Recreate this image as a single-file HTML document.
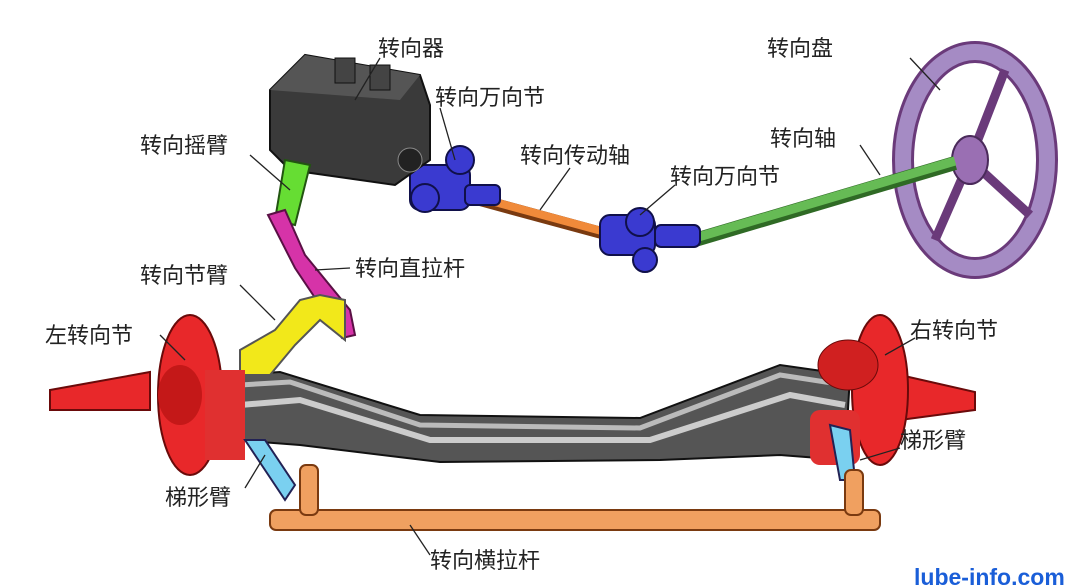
<!DOCTYPE html>
<html><head><meta charset="utf-8"><style>
html,body{margin:0;padding:0;background:#fff;}
svg{display:block}
text{font-family:"Liberation Sans","Noto Sans CJK SC",sans-serif;font-size:22px;fill:#222;}
</style></head><body>
<svg width="1080" height="587" viewBox="0 0 1080 587" xmlns="http://www.w3.org/2000/svg">
<ellipse cx="975" cy="160" rx="72" ry="108" fill="none" stroke="#6a3a7a" stroke-width="22"/>
<ellipse cx="975" cy="160" rx="72" ry="108" fill="none" stroke="#a58bc4" stroke-width="16"/>
<line x1="970" y1="160" x2="1005" y2="70" stroke="#6a3a7a" stroke-width="9"/>
<line x1="970" y1="160" x2="935" y2="240" stroke="#6a3a7a" stroke-width="9"/>
<line x1="970" y1="160" x2="1030" y2="215" stroke="#6a3a7a" stroke-width="9"/>
<ellipse cx="970" cy="160" rx="18" ry="24" fill="#9a6fb3" stroke="#4a2a5a" stroke-width="2"/>
<line x1="695" y1="240" x2="955" y2="163" stroke="#2f6a25" stroke-width="14"/>
<line x1="695" y1="238" x2="955" y2="161" stroke="#66bb55" stroke-width="9"/>
<line x1="480" y1="200" x2="620" y2="238" stroke="#7a3a10" stroke-width="12"/>
<line x1="480" y1="198" x2="620" y2="236" stroke="#f08a3a" stroke-width="8"/>
<g fill="#3a3ad0" stroke="#10104a" stroke-width="2">
<rect x="600" y="215" width="55" height="40" rx="10"/>
<circle cx="640" cy="222" r="14"/><circle cx="645" cy="260" r="12"/>
<rect x="655" y="225" width="45" height="22" rx="6"/>
<rect x="410" y="165" width="60" height="45" rx="10"/>
<circle cx="460" cy="160" r="14"/><circle cx="425" cy="198" r="14"/>
<rect x="465" y="185" width="35" height="20" rx="5"/>
</g>
<path d="M270 90 L305 55 L420 75 L430 105 L430 160 L395 185 L290 170 L270 150 Z" fill="#3a3a3a" stroke="#111" stroke-width="2"/>
<path d="M270 90 L305 55 L420 75 L400 100 Z" fill="#555"/>
<rect x="335" y="58" width="20" height="25" fill="#444" stroke="#111"/>
<rect x="370" y="65" width="20" height="25" fill="#444" stroke="#111"/>
<circle cx="410" cy="160" r="12" fill="#222" stroke="#888"/>
<path d="M285 160 L310 165 L295 225 L275 220 Z" fill="#66dd33" stroke="#225511" stroke-width="2"/>
<path d="M268 215 L285 210 L305 255 L350 310 L355 335 L342 338 L295 268 Z" fill="#d633a8" stroke="#5a1045" stroke-width="2"/>
<path d="M235 375 L280 372 L420 415 L640 418 L780 365 L850 375 L845 460 L780 455 L660 460 L440 462 L300 445 L235 440 Z" fill="#555" stroke="#111" stroke-width="2"/>
<path d="M240 385 L290 382 L420 425 L640 428 L780 375 L845 385" fill="none" stroke="#bbb" stroke-width="5"/>
<path d="M240 405 L300 400 L430 440 L650 440 L790 395 L845 405" fill="none" stroke="#ccc" stroke-width="6"/>
<path d="M240 350 L275 330 L300 300 L320 295 L345 300 L345 340 L320 320 L295 345 L270 375 L240 375 Z" fill="#f2e81a" stroke="#555" stroke-width="2"/>
<path d="M50 390 L150 372 L150 410 L50 410 Z" fill="#e8282a" stroke="#6a0a0a" stroke-width="2"/>
<ellipse cx="190" cy="395" rx="32" ry="80" fill="#e8282a" stroke="#6a0a0a" stroke-width="2"/>
<ellipse cx="180" cy="395" rx="22" ry="30" fill="#c41818"/>
<rect x="205" y="370" width="40" height="90" fill="#e03030"/>
<path d="M900 375 L975 392 L975 410 L900 420 Z" fill="#e8282a" stroke="#6a0a0a" stroke-width="2"/>
<ellipse cx="880" cy="390" rx="28" ry="75" fill="#e8282a" stroke="#6a0a0a" stroke-width="2"/>
<ellipse cx="848" cy="365" rx="30" ry="25" fill="#d02020" stroke="#6a0a0a"/>
<rect x="810" y="410" width="50" height="55" rx="10" fill="#e03030"/>
<path d="M245 440 L265 440 L295 485 L285 500 Z" fill="#7ad0f0" stroke="#225" stroke-width="2"/>
<path d="M830 425 L850 430 L855 480 L840 480 Z" fill="#7ad0f0" stroke="#225" stroke-width="2"/>
<rect x="270" y="510" width="610" height="20" rx="6" fill="#f0a060" stroke="#7a3a10" stroke-width="2"/>
<rect x="300" y="465" width="18" height="50" rx="6" fill="#f0a060" stroke="#7a3a10" stroke-width="2"/>
<rect x="845" y="470" width="18" height="45" rx="6" fill="#f0a060" stroke="#7a3a10" stroke-width="2"/>
<g stroke="#222" stroke-width="1.3" fill="none">
<line x1="380" y1="58" x2="355" y2="100"/>
<line x1="440" y1="108" x2="455" y2="160"/>
<line x1="910" y1="58" x2="940" y2="90"/>
<line x1="250" y1="155" x2="290" y2="190"/>
<line x1="570" y1="168" x2="540" y2="210"/>
<line x1="860" y1="145" x2="880" y2="175"/>
<line x1="675" y1="185" x2="640" y2="215"/>
<line x1="350" y1="268" x2="315" y2="270"/>
<line x1="240" y1="285" x2="275" y2="320"/>
<line x1="160" y1="335" x2="185" y2="360"/>
<line x1="915" y1="338" x2="885" y2="355"/>
<line x1="900" y1="448" x2="860" y2="460"/>
<line x1="245" y1="488" x2="265" y2="455"/>
<line x1="430" y1="555" x2="410" y2="525"/>
</g>
<text x="378" y="56">转向器</text>
<text x="767" y="56">转向盘</text>
<text x="435" y="105">转向万向节</text>
<text x="140" y="153">转向摇臂</text>
<text x="770" y="146">转向轴</text>
<text x="520" y="163">转向传动轴</text>
<text x="670" y="184">转向万向节</text>
<text x="355" y="276">转向直拉杆</text>
<text x="140" y="283">转向节臂</text>
<text x="45" y="343">左转向节</text>
<text x="910" y="338">右转向节</text>
<text x="900" y="448">梯形臂</text>
<text x="165" y="505">梯形臂</text>
<text x="430" y="568">转向横拉杆</text>
<text x="914" y="585" style="fill:#1a5ed8;font-weight:bold;font-size:23px">lube-info.com</text>
</svg>
</body></html>
